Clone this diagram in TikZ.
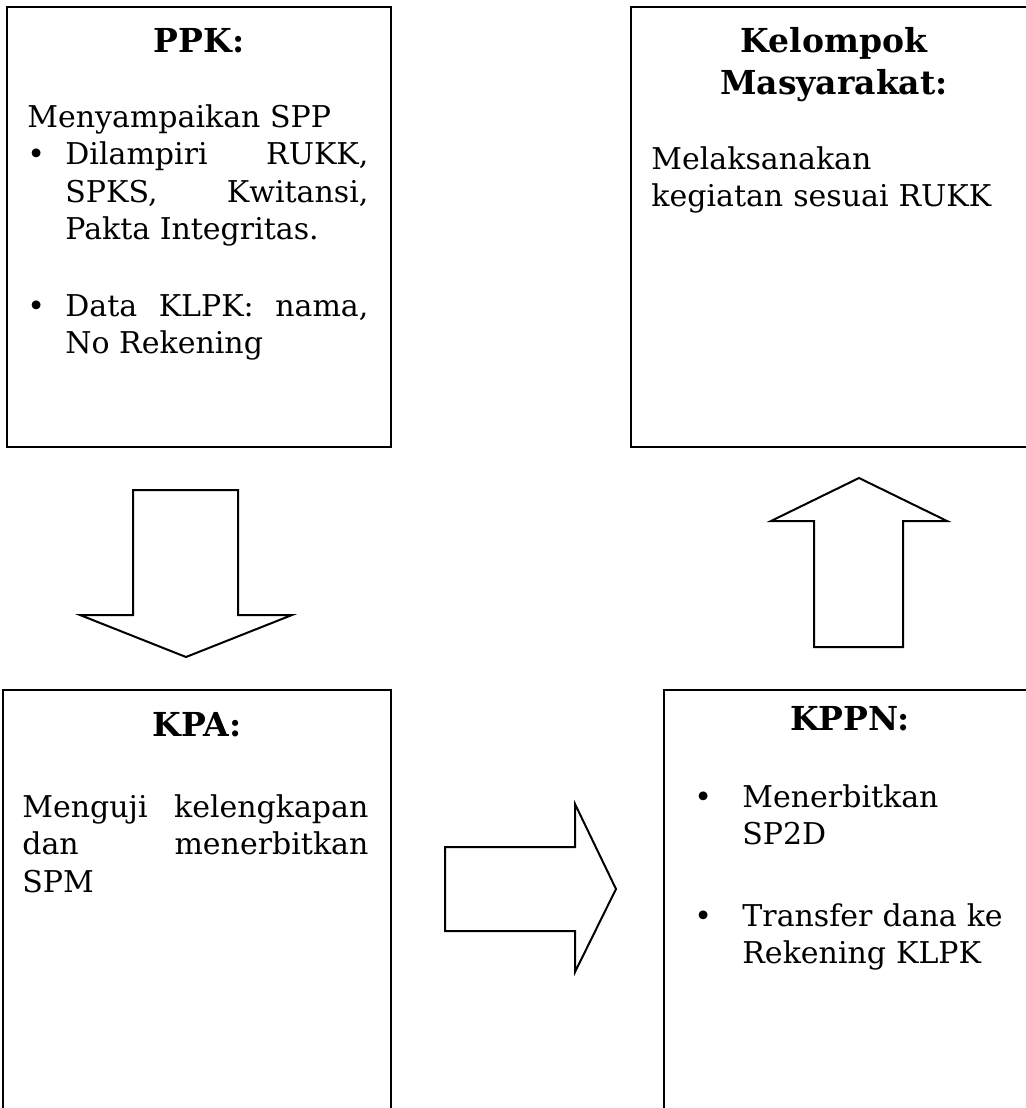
\documentclass[tikz,border=0pt]{standalone}
\usepackage{fontspec}
\setmainfont{DejaVu Serif}
\usepackage{tikz}
\usetikzlibrary{fit}

% butir daftar dengan indentasi gantung
\newcommand{\butir}[2][19pt]{\noindent\hangindent=#1\hangafter=1%
  \makebox[#1][l]{\textbullet}#2\par}

\tikzset{
  kotak/.style={draw, line width=1pt, inner sep=0pt},
  judul/.style={font=\fontsize{16.5}{21}\selectfont\bfseries, inner sep=0pt, anchor=base},
  isi/.style={font=\fontsize{15}{18.75}\selectfont, inner sep=0pt, anchor=base west},
  panah/.style={draw, line width=1pt, line join=miter, fill=white}
}

\begin{document}
\begin{tikzpicture}[x=0.5pt,y=0.5pt]
\useasboundingbox (0,0) rectangle (1026,-1108);
\clip (0,0) rectangle (1026,-1108);

% kotak
\node[kotak, fit={(7,-7) (391,-447)}] (ppk) {};
\node[kotak, fit={(631,-7) (1037,-447)}] (klp) {};
\node[kotak, fit={(3,-690) (391,-1130)}] (kpa) {};
\node[kotak, fit={(664,-690) (1036,-1130)}] (kppn) {};

% judul
\node[judul] (ppkJ) at ([yshift=-23pt]ppk.north) {PPK:};
\node[judul, text width=200pt, align=center] (klpJ) at ([yshift=-23pt]klp.north) {Kelompok\\Masyarakat:};
\node[judul] (kpaJ) at ([yshift=-23.5pt]kpa.north) {KPA:};
\node[judul] (kppnJ) at ([yshift=-20.5pt]kppn.north) {KPPN:};

% isi
\node[isi, text width=170.5pt, align=justify] (ppkI) at ([xshift=10.5pt,yshift=-60.5pt]ppk.north west) {%
  Menyampaikan SPP\par
  \butir{Dilampiri RUKK,\linebreak SPKS, Kwitansi,\linebreak Pakta Integritas.}
  \vspace{19.5pt}
  \butir{Data KLPK: nama,\linebreak No Rekening}};
\node[isi, text width=180pt, align=left] (klpI) at ([xshift=10.5pt,yshift=-81.5pt]klp.north west) {%
  Melaksanakan\\kegiatan sesuai RUKK};
\node[isi, text width=173pt, align=justify] (kpaI) at ([xshift=10pt,yshift=-64pt]kpa.north west) {%
  Menguji kelengkapan\linebreak dan menerbitkan\linebreak SPM};
\node[isi, text width=163pt, align=left] (kppnI) at ([xshift=15.5pt,yshift=-59pt]kppn.north west) {%
  \butir[24pt]{Menerbitkan\newline SP2D}
  \vspace{22pt}
  \butir[24pt]{Transfer dana ke\newline Rekening KLPK}};

% panah blok
\draw[panah] (133,-490) -- (238,-490) -- (238,-615) -- (292,-615) -- (186,-657)
  -- (80,-615) -- (133,-615) -- cycle;
\draw[panah] (445,-847) -- (575,-847) -- (575,-804) -- (616,-889) -- (575,-972)
  -- (575,-931) -- (445,-931) -- cycle;
\draw[panah] (814,-647) -- (903,-647) -- (903,-521) -- (947,-521) -- (859,-478)
  -- (771,-521) -- (814,-521) -- cycle;
\end{tikzpicture}
\end{document}
